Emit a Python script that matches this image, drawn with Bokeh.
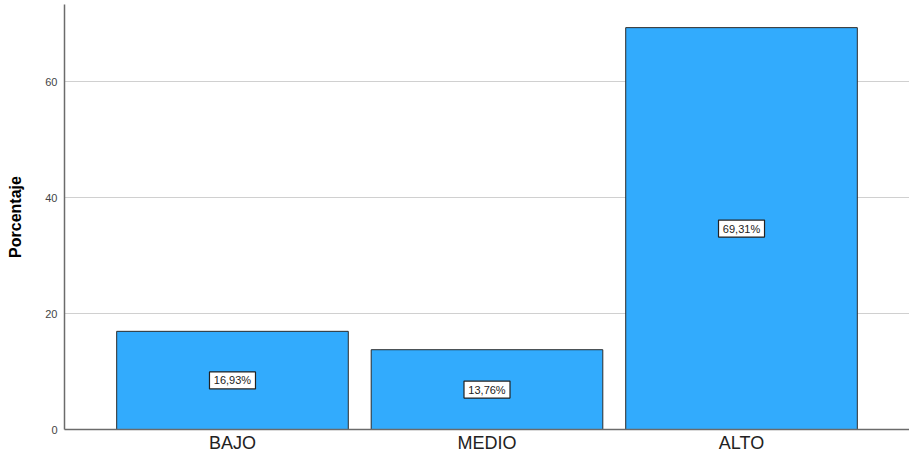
from bokeh.plotting import figure
from bokeh.models import ColumnDataSource, FactorRange, Range1d
from bokeh.core.properties import value
from bokeh.embed import file_html
from bokeh.resources import INLINE

categories = ["BAJO", "MEDIO", "ALTO"]
percentages = [16.93, 13.76, 69.31]
labels = ["16,93%", "13,76%", "69,31%"]
y_ticks = [0, 20, 40, 60]

src = ColumnDataSource(dict(
    cat=categories,
    val=percentages,
    mid=[v / 2 for v in percentages],
    lab=labels,
))

p = figure(
    frame_width=845, frame_height=425,
    x_range=FactorRange(factors=categories, range_padding=0.16, range_padding_units="absolute"),
    y_range=Range1d(0, 73.3),
    output_backend="svg", toolbar_location=None,
    min_border_left=64, min_border_right=0, min_border_top=4, min_border_bottom=0,
)
p.outline_line_color = None
p.background_fill_color = "white"

p.vbar(x="cat", top="val", width=0.91, source=src,
       fill_color="#32abfd", line_color="#2b2b2b", line_width=1)

p.rect(x="cat", y="mid", width=46, height=17, width_units="screen", height_units="screen",
       source=src, fill_color="white", line_color="#222222", line_width=1.2)
p.text(x="cat", y="mid", text="lab", source=src,
       text_align="center", text_baseline="middle",
       text_font=value("Liberation Sans"), text_font_size="11px", text_color="#222222")

# y axis
p.yaxis.ticker = y_ticks
p.yaxis.axis_label = "Porcentaje"
p.yaxis.axis_label_text_font = "Liberation Sans"
p.yaxis.axis_label_text_font_style = "bold"
p.yaxis.axis_label_text_font_size = "16px"
p.yaxis.axis_label_text_color = "#000000"
p.yaxis.axis_label_standoff = 18
p.yaxis.major_label_text_font = "Liberation Sans"
p.yaxis.major_label_text_font_size = "11px"
p.yaxis.major_label_text_color = "#444444"
p.yaxis.major_tick_line_color = None
p.yaxis.major_tick_out = 0
p.yaxis.major_tick_in = 0
p.yaxis.minor_tick_line_color = None
p.yaxis.major_label_standoff = 7
p.yaxis.axis_line_color = "#6b6b6b"
p.yaxis.axis_line_width = 1.5

# x axis
p.xaxis.major_label_text_font = "Liberation Sans"
p.xaxis.major_label_text_font_size = "18px"
p.xaxis.major_label_text_color = "#222222"
p.xaxis.major_tick_line_color = None
p.xaxis.major_tick_out = 0
p.xaxis.major_tick_in = 0
p.xaxis.major_label_standoff = 3
p.xaxis.axis_line_color = "#6b6b6b"
p.xaxis.axis_line_width = 1.5

p.xgrid.grid_line_color = None
p.ygrid.grid_line_color = "#d0d0d0"
p.ygrid.grid_line_width = 1.2

open("out.html", "w").write(file_html(p, INLINE))
